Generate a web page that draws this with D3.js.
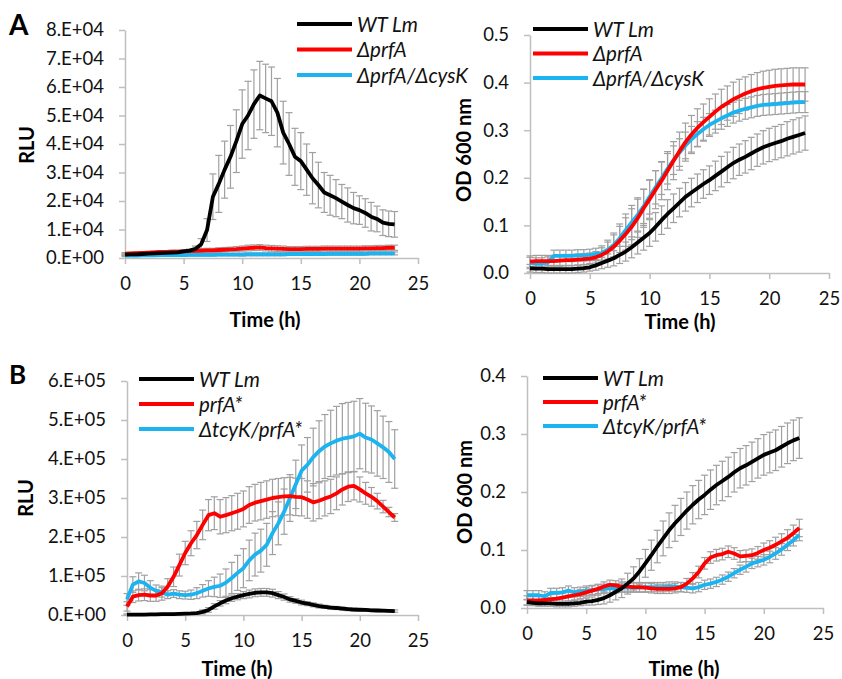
<!DOCTYPE html>
<html>
<head>
<meta charset="utf-8">
<script src="https://cdn.jsdelivr.net/npm/d3@7"></script>
<style>
  body { margin: 0; background: #fff; }
  svg { display: block; font-family: Lato, "Liberation Sans", sans-serif; }
</style>
</head>
<body>
<svg id="fig" width="842" height="679"></svg>
<script>
// time points (h), one every 30 min
var hours = d3.range(0, 23.01, 0.5);

// ---- panel A, luminescence (RLU) ----
var rluA_wt = [1200,1300,1300,1400,1500,1600,1700,1800,1900,2000,
  2300,2600,3200,4800,9800,21500,26000,31000,35500,41000,
  47000,50000,54000,57000,56000,55000,51000,44000,40000,35500,
  34000,31000,28000,25600,23000,22000,21000,19800,18600,17500,
  16800,15800,14500,13700,12400,12000,11800];
var rluA_wtErr = [300,300,300,300,300,300,300,300,300,300,
  300,500,1000,2000,4000,8000,10000,10000,11000,11000,
  12000,12000,12000,12000,12000,12000,12000,11000,11000,10000,
  10000,9000,9000,8000,7000,7000,6500,6000,6000,5500,
  5000,5000,5000,4500,4500,4500,4500];
var rluA_prfA = [1500,1600,1700,1800,1900,2000,2100,2100,2200,2200,
  2300,2400,2500,2600,2700,2700,2800,2900,3000,3100,
  3300,3500,3600,3700,3500,3400,3300,3200,3100,3100,
  3100,3200,3200,3200,3300,3300,3300,3300,3300,3300,
  3300,3400,3400,3500,3500,3600,3600];
var rluA_prfAErr = [400,400,400,400,400,400,500,500,500,500,
  600,600,600,700,700,700,800,800,800,900,
  900,1000,1000,1000,1000,1000,1000,1000,900,900,
  900,900,900,900,900,900,900,900,900,900,
  900,900,900,900,900,900,900];
var rluA_cysK = [800,800,800,900,900,900,1000,1000,1000,1000,
  1000,1100,1100,1100,1100,1100,1200,1200,1200,1200,
  1200,1300,1300,1300,1300,1300,1300,1300,1400,1400,
  1400,1400,1400,1400,1400,1500,1500,1500,1500,1500,
  1500,1500,1600,1600,1600,1600,1600];
var rluA_cysKErr = [300,300,300,300,300,300,300,300,300,300,
  400,400,400,400,400,400,400,400,400,400,
  500,500,500,500,500,500,500,500,500,500,
  500,500,500,500,500,500,500,500,500,500,
  500,500,500,500,500,500,500];

// ---- panel A, growth (OD 600) ----
var odA_wt = [0.010,0.009,0.009,0.008,0.008,0.008,0.008,0.008,0.009,0.010,
  0.012,0.016,0.021,0.026,0.031,0.038,0.045,0.054,0.064,0.074,
  0.084,0.097,0.111,0.124,0.136,0.148,0.160,0.169,0.178,0.187,
  0.195,0.204,0.213,0.222,0.231,0.238,0.244,0.251,0.258,0.264,
  0.269,0.273,0.277,0.282,0.286,0.290,0.294];
var odA_wtErr = [0.008,0.008,0.008,0.008,0.008,0.008,0.008,0.008,0.008,0.008,
  0.008,0.010,0.012,0.014,0.016,0.018,0.020,0.022,0.024,0.026,
  0.028,0.030,0.030,0.030,0.030,0.030,0.030,0.030,0.030,0.030,
  0.030,0.031,0.032,0.032,0.033,0.033,0.034,0.034,0.034,0.035,
  0.035,0.035,0.035,0.036,0.036,0.036,0.036];
var odA_prfA = [0.024,0.025,0.025,0.025,0.025,0.026,0.027,0.027,0.028,0.029,
  0.030,0.033,0.038,0.045,0.055,0.068,0.082,0.097,0.115,0.136,
  0.155,0.175,0.194,0.215,0.236,0.256,0.275,0.291,0.305,0.317,
  0.328,0.339,0.349,0.357,0.365,0.371,0.377,0.382,0.386,0.389,
  0.391,0.393,0.394,0.395,0.396,0.396,0.396];
var odA_prfAErr = [0.012,0.012,0.012,0.012,0.012,0.012,0.012,0.012,0.012,0.012,
  0.012,0.012,0.015,0.020,0.025,0.030,0.034,0.038,0.040,0.040,
  0.040,0.040,0.040,0.040,0.040,0.040,0.040,0.040,0.040,0.038,
  0.038,0.037,0.037,0.036,0.036,0.036,0.035,0.035,0.035,0.035,
  0.035,0.035,0.035,0.035,0.035,0.035,0.035];
var odA_cysK = [0.021,0.020,0.020,0.022,0.036,0.036,0.036,0.036,0.037,0.037,
  0.038,0.040,0.042,0.049,0.059,0.073,0.090,0.106,0.122,0.140,
  0.160,0.180,0.199,0.219,0.237,0.253,0.268,0.281,0.292,0.302,
  0.311,0.318,0.325,0.331,0.337,0.341,0.345,0.348,0.351,0.353,
  0.354,0.355,0.356,0.357,0.358,0.359,0.359];
var odA_cysKErr = [0.012,0.012,0.012,0.012,0.012,0.012,0.012,0.012,0.012,0.012,
  0.012,0.012,0.015,0.020,0.025,0.030,0.034,0.036,0.036,0.036,
  0.036,0.035,0.034,0.032,0.030,0.029,0.028,0.027,0.026,0.025,
  0.024,0.024,0.023,0.023,0.022,0.022,0.022,0.022,0.022,0.022,
  0.022,0.022,0.022,0.022,0.022,0.022,0.022];

// ---- panel B, luminescence (RLU) ----
var rluB_wt = [1000,1000,1000,1000,1500,1500,2000,2000,2500,3000,
  3500,4000,5000,8000,13000,22000,30000,37000,43000,47000,
  51000,54000,57000,58000,58000,56000,51000,46000,40000,36000,
  32000,29000,26000,23000,21000,19000,18000,16500,15000,14000,
  13500,13000,12000,11500,11000,10500,10000];
var rluB_wtErr = [2000,2000,2000,2000,2000,2000,2000,2000,2000,2000,
  2000,2000,2000,5000,6000,7000,7000,8000,8000,8000,
  9000,10000,10000,10000,10000,10000,9000,8000,7000,6000,
  6000,5000,5000,5000,4000,4000,4000,4000,4000,4000,
  3000,3000,3000,3000,3000,3000,3000];
var rluB_prfA = [22000,47000,51000,52000,50000,50000,56000,73000,98000,128000,
  159000,184000,205000,231000,256000,261000,252000,256000,261000,266000,
  272000,282000,288000,292000,296000,300000,302000,304000,305000,303000,
  302000,296000,289000,293000,299000,304000,312000,322000,329000,331000,
  322000,312000,303000,292000,278000,264000,250000];
var rluB_prfAErr = [12000,15000,15000,15000,15000,15000,18000,20000,25000,28000,
  30000,32000,35000,38000,40000,42000,44000,45000,45000,46000,
  46000,47000,47000,48000,48000,48000,48000,48000,48000,48000,
  48000,48000,48000,46000,45000,44000,42000,40000,38000,36000,
  32000,28000,24000,20000,16000,12000,10000];
var rluB_tcyK = [40000,78000,86000,82000,70000,62000,58000,52000,55000,52000,
  51000,52000,56000,62000,68000,72000,75000,83000,95000,108000,
  120000,140000,155000,165000,180000,210000,235000,265000,300000,335000,
  370000,385000,405000,420000,432000,440000,447000,452000,455000,458000,
  465000,455000,450000,440000,430000,418000,400000];
var rluB_tcyKErr = [15000,20000,22000,20000,18000,15000,12000,10000,10000,10000,
  10000,12000,14000,16000,20000,25000,30000,35000,40000,45000,
  50000,52000,55000,55000,55000,55000,55000,58000,60000,62000,
  66000,70000,74000,78000,82000,85000,88000,90000,90000,90000,
  90000,88000,86000,84000,80000,78000,75000];

// ---- panel B, growth (OD 600) ----
var odB_wt = [0.010,0.009,0.008,0.008,0.008,0.007,0.007,0.007,0.008,0.009,
  0.011,0.012,0.014,0.017,0.022,0.028,0.034,0.042,0.051,0.063,
  0.077,0.091,0.106,0.120,0.134,0.146,0.157,0.168,0.178,0.187,
  0.195,0.204,0.212,0.219,0.226,0.234,0.241,0.246,0.252,0.258,
  0.264,0.268,0.272,0.278,0.284,0.289,0.293];
var odB_wtErr = [0.005,0.005,0.005,0.005,0.005,0.005,0.005,0.005,0.005,0.005,
  0.006,0.007,0.008,0.010,0.012,0.014,0.016,0.018,0.020,0.022,
  0.024,0.026,0.028,0.030,0.030,0.031,0.032,0.032,0.033,0.033,
  0.034,0.034,0.034,0.034,0.034,0.034,0.034,0.034,0.034,0.034,
  0.035,0.035,0.035,0.035,0.035,0.035,0.035];
var odB_prfA = [0.013,0.013,0.013,0.014,0.015,0.016,0.018,0.020,0.022,0.024,
  0.027,0.030,0.033,0.037,0.040,0.039,0.037,0.037,0.036,0.036,
  0.035,0.034,0.033,0.033,0.033,0.034,0.036,0.042,0.051,0.062,
  0.077,0.087,0.091,0.093,0.097,0.094,0.089,0.090,0.091,0.095,
  0.100,0.104,0.109,0.115,0.121,0.129,0.138];
var odB_prfAErr = [0.008,0.008,0.008,0.008,0.008,0.008,0.008,0.008,0.008,0.008,
  0.008,0.008,0.008,0.008,0.008,0.008,0.008,0.008,0.008,0.008,
  0.008,0.008,0.008,0.008,0.008,0.008,0.008,0.009,0.010,0.010,
  0.010,0.010,0.010,0.010,0.010,0.010,0.010,0.010,0.011,0.011,
  0.012,0.012,0.013,0.013,0.014,0.014,0.015];
var odB_tcyK = [0.022,0.022,0.022,0.020,0.026,0.026,0.027,0.030,0.027,0.028,
  0.030,0.031,0.032,0.033,0.034,0.034,0.035,0.035,0.035,0.035,
  0.036,0.036,0.036,0.036,0.037,0.037,0.036,0.035,0.034,0.036,
  0.040,0.042,0.045,0.049,0.054,0.060,0.066,0.071,0.077,0.080,
  0.083,0.088,0.094,0.101,0.109,0.117,0.126];
var odB_tcyKErr = [0.008,0.008,0.008,0.008,0.008,0.008,0.008,0.008,0.008,0.008,
  0.008,0.008,0.008,0.008,0.008,0.008,0.008,0.008,0.008,0.008,
  0.008,0.008,0.008,0.008,0.008,0.008,0.008,0.008,0.008,0.008,
  0.008,0.008,0.008,0.008,0.008,0.008,0.008,0.009,0.009,0.009,
  0.009,0.010,0.010,0.010,0.010,0.010,0.010];

// labels and ticks
var legendA = ["WT Lm", "\u0394prfA", "\u0394prfA/\u0394cysK"];
var legendB = ["WT Lm", "prfA*", "\u0394tcyK/prfA*"];
var seriesColors = ["#000000", "#ff0000", "#1cb4f0"];
var xTicks = [0, 5, 10, 15, 20, 25];
var rluTicksA = [0, 1e4, 2e4, 3e4, 4e4, 5e4, 6e4, 7e4, 8e4];
var rluTicksB = [0, 1e5, 2e5, 3e5, 4e5, 5e5, 6e5];
var odTicksA = [0, 0.1, 0.2, 0.3, 0.4, 0.5];
var odTicksB = [0, 0.1, 0.2, 0.3, 0.4];

var svg = d3.select("#fig");
var gridGrey = "#bfbfbf";
var errGrey = "#a0a0a0";

// Excel style "8.E+04"
function sciFormat(d) {
	if (d === 0) return "0.E+00";
	var e = Math.floor(Math.log10(d) + 1e-9);
	var m = Math.round(d / Math.pow(10, e));
	return m + ".E+" + (e < 10 ? "0" + e : e);
}

function drawPanel(p) {
	var x = d3.scaleLinear().domain([0, 25]).range([p.left, p.right]);
	var y = d3.scaleLinear().domain([0, p.yMax]).range([p.bottom, p.top]);
	var g = svg.append("g");

	// axes
	var yAxis = g.append("g")
		.attr("transform", "translate(" + p.left + ",0)")
		.call(d3.axisLeft(y).tickValues(p.yTicks).tickSize(6).tickSizeOuter(0).tickPadding(15).tickFormat(p.fmt));
	var xAxis = g.append("g")
		.attr("transform", "translate(0," + p.bottom + ")")
		.call(d3.axisBottom(x).tickValues(xTicks).tickSize(6).tickSizeOuter(0).tickPadding(13));
	[xAxis, yAxis].forEach(function(a) {
		a.select(".domain").attr("stroke", gridGrey).attr("stroke-width", 1.5);
		a.selectAll(".tick line").attr("stroke", gridGrey).attr("stroke-width", 1.5);
		a.selectAll(".tick text")
			.attr("fill", "#111")
			.style("font-size", "18.5px")
			.style("font-family", "Lato, sans-serif");
	});

	// error bars first, lines on top
	p.series.forEach(function(s) {
		var eb = g.append("g").attr("stroke", errGrey).attr("stroke-width", 1.2);
		hours.forEach(function(t, i) {
			var cx = x(t), hi = y(s.values[i] + s.err[i]), lo = y(Math.max(0, s.values[i] - s.err[i]));
			eb.append("line").attr("x1", cx).attr("x2", cx).attr("y1", hi).attr("y2", lo);
			eb.append("line").attr("x1", cx - 3.5).attr("x2", cx + 3.5).attr("y1", hi).attr("y2", hi);
			eb.append("line").attr("x1", cx - 3.5).attr("x2", cx + 3.5).attr("y1", lo).attr("y2", lo);
		});
	});
	var line = d3.line()
		.x(function(d) { return x(d[0]); })
		.y(function(d) { return y(d[1]); });
	p.series.slice().reverse().forEach(function(s) {
		g.append("path")
			.datum(hours.map(function(t, i) { return [t, s.values[i]]; }))
			.attr("fill", "none")
			.attr("stroke", s.color)
			.attr("stroke-width", 3.8)
			.attr("stroke-linejoin", "round")
			.attr("d", line);
	});

	// legend
	p.series.forEach(function(s, i) {
		var ly = p.legY + i * p.legStep;
		g.append("line")
			.attr("x1", p.legX).attr("x2", p.legX + 55)
			.attr("y1", ly).attr("y2", ly)
			.attr("stroke", s.color).attr("stroke-width", 4);
		g.append("text")
			.attr("x", p.legX + 60).attr("y", ly + 7.5)
			.style("font-size", "20.5px").style("font-style", "italic")
			.attr("fill", "#111")
			.text(s.name);
	});

	// axis titles
	g.append("text")
		.attr("x", p.xTitleX).attr("y", p.xTitleY)
		.attr("text-anchor", "middle")
		.style("font-size", "20px").style("font-weight", "bold")
		.text("Time (h)");
	g.append("text")
		.attr("transform", "translate(" + p.yTitleX + "," + p.yTitleY + ") rotate(-90)")
		.attr("text-anchor", "middle")
		.style("font-size", "20px").style("font-weight", "bold")
		.text(p.yTitle);
}

function mkSeries(names, vals, errs) {
	return names.map(function(n, i) {
		return { name: n, color: seriesColors[i], values: vals[i], err: errs[i] };
	});
}

drawPanel({ left: 125, right: 418, top: 30, bottom: 258, yMax: 8e4, yTicks: rluTicksA, fmt: sciFormat,
	series: mkSeries(legendA, [rluA_wt, rluA_prfA, rluA_cysK], [rluA_wtErr, rluA_prfAErr, rluA_cysKErr]),
	legX: 297, legY: 24, legStep: 25.5, xTitleX: 265, xTitleY: 327, yTitleX: 34, yTitleY: 145, yTitle: "RLU" });

drawPanel({ left: 530, right: 829, top: 35, bottom: 273, yMax: 0.5, yTicks: odTicksA, fmt: d3.format(".1f"),
	series: mkSeries(legendA, [odA_wt, odA_prfA, odA_cysK], [odA_wtErr, odA_prfAErr, odA_cysKErr]),
	legX: 533, legY: 29, legStep: 24.5, xTitleX: 680, xTitleY: 329, yTitleX: 471, yTitleY: 150, yTitle: "OD 600 nm" });

drawPanel({ left: 127, right: 418, top: 381, bottom: 615, yMax: 6e5, yTicks: rluTicksB, fmt: sciFormat,
	series: mkSeries(legendB, [rluB_wt, rluB_prfA, rluB_tcyK], [rluB_wtErr, rluB_prfAErr, rluB_tcyKErr]),
	legX: 139, legY: 379, legStep: 25, xTitleX: 237, xTitleY: 676, yTitleX: 33, yTitleY: 498, yTitle: "RLU" });

drawPanel({ left: 527, right: 823, top: 376, bottom: 608, yMax: 0.4, yTicks: odTicksB, fmt: d3.format(".1f"),
	series: mkSeries(legendB, [odB_wt, odB_prfA, odB_tcyK], [odB_wtErr, odB_prfAErr, odB_tcyKErr]),
	legX: 543, legY: 378, legStep: 24, xTitleX: 684, xTitleY: 676, yTitleX: 472, yTitleY: 492, yTitle: "OD 600 nm" });

// panel letters
svg.append("text").attr("x", 9).attr("y", 35)
	.style("font-size", "28px").style("font-weight", "bold").text("A");
svg.append("text").attr("x", 9).attr("y", 384)
	.style("font-size", "26px").style("font-weight", "bold").text("B");
</script>
</body>
</html>
